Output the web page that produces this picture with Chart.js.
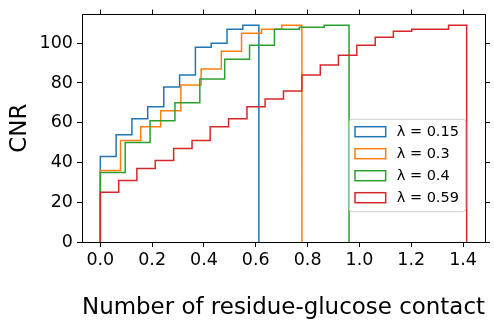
<!DOCTYPE html>
<html>
<head>
<meta charset="utf-8">
<script src="https://cdn.jsdelivr.net/npm/chart.js@4/dist/chart.umd.min.js"></script>
<style>
html,body{margin:0;padding:0;background:#fff;}
#wrap{width:494px;height:321px;}
</style>
</head>
<body>
<div id="wrap"><canvas id="c" width="494" height="321"></canvas></div>
<script>
// ---- data ----
const seriesLabels = ['λ = 0.15', 'λ = 0.3', 'λ = 0.4', 'λ = 0.59'];

const edges015 = [0, 0.061, 0.122, 0.183, 0.245, 0.306, 0.367, 0.428, 0.489, 0.550, 0.612];
const counts015 = [43, 54, 62, 68, 78, 84, 98, 100, 107, 109];

const edges03 = [0, 0.078, 0.156, 0.233, 0.311, 0.389, 0.467, 0.545, 0.622, 0.700, 0.778];
const counts03 = [36, 51, 58, 66, 79, 87, 96, 105, 107, 109];

const edges04 = [0, 0.096, 0.192, 0.288, 0.384, 0.480, 0.576, 0.672, 0.768, 0.864, 0.960];
const counts04 = [35, 50, 61, 70, 82, 92, 99, 107, 108, 109];

const edges059 = [0, 0.071, 0.141, 0.212, 0.283, 0.354, 0.424, 0.495, 0.566, 0.636, 0.707,
                  0.778, 0.849, 0.919, 0.990, 1.061, 1.131, 1.202, 1.273, 1.344, 1.414];
const counts059 = [25, 31, 37, 41, 47, 51, 58, 62, 68, 72, 76, 84, 89, 94, 99, 103, 106, 107, 107, 109];

const xTickValues = [0, 0.2, 0.4, 0.6, 0.8, 1.0, 1.2, 1.4];
const yTickValues = [0, 20, 40, 60, 80, 100];

const xAxisTitle = 'Number of residue-glucose contact';
const yAxisTitle = 'CNR';

// ---- build step outlines (matplotlib histtype="step") ----
function stepPoints(edges, counts) {
  const pts = [{x: edges[0], y: 0}];
  for (let i = 0; i < counts.length; i++) pts.push({x: edges[i + 1], y: counts[i]});
  const last = edges[edges.length - 1];
  pts.push({x: last, y: 0});
  return pts;
}

const colors = ['#1f77b4', '#ff7f0e', '#2ca02c', '#d62728'];
const allEdges = [edges015, edges03, edges04, edges059];
const allCounts = [counts015, counts03, counts04, counts059];

const datasets = seriesLabels.map((lab, i) => ({
  label: lab,
  data: stepPoints(allEdges[i], allCounts[i]),
  stepped: 'after',
  borderColor: colors[i],
  backgroundColor: colors[i],
  borderWidth: 1.5,
  pointRadius: 0,
  fill: false,
  tension: 0,
  order: 3 - i
}));

Chart.defaults.font.family = 'DejaVu Sans';
Chart.defaults.color = '#000';

const tickFont = {family: 'DejaVu Sans', size: 17.5};
const titleFont = {family: 'DejaVu Sans', size: 23};
const xTitleFont = {family: 'DejaVu Sans', size: 23.3};

const xMin = -0.0707, xMax = 1.4847;
const yMin = 0, yMax = 114.45;

const legendPlugin = {
  id: 'mplLegend',
  afterDatasetsDraw(chart) {
    const ctx = chart.ctx;
    const ca = chart.chartArea;
    const bx = ca.right - 135.7, by = ca.bottom - 122.7, bw = 116.4, bh = 92.4;
    ctx.save();
    const r = 3;
    ctx.beginPath();
    ctx.moveTo(bx + r, by);
    ctx.lineTo(bx + bw - r, by);
    ctx.quadraticCurveTo(bx + bw, by, bx + bw, by + r);
    ctx.lineTo(bx + bw, by + bh - r);
    ctx.quadraticCurveTo(bx + bw, by + bh, bx + bw - r, by + bh);
    ctx.lineTo(bx + r, by + bh);
    ctx.quadraticCurveTo(bx, by + bh, bx, by + bh - r);
    ctx.lineTo(bx, by + r);
    ctx.quadraticCurveTo(bx, by, bx + r, by);
    ctx.closePath();
    ctx.fillStyle = 'rgba(255,255,255,0.8)';
    ctx.fill();
    ctx.strokeStyle = '#cccccc';
    ctx.lineWidth = 1;
    ctx.stroke();
    ctx.font = '14.5px "DejaVu Sans"';
    ctx.textBaseline = 'middle';
    ctx.textAlign = 'left';
    chart.data.datasets.forEach((ds, i) => {
      const cy = by + 12.4 + i * 22;
      ctx.fillStyle = '#ffffff';
      ctx.fillRect(bx + 5.7, cy - 5, 30.7, 10);
      ctx.strokeStyle = ds.borderColor;
      ctx.lineWidth = 1.5;
      ctx.strokeRect(bx + 5.7, cy - 5, 30.7, 10);
      ctx.fillStyle = '#000';
      ctx.fillText(ds.label, bx + 47.4, cy + 0.5);
    });
    ctx.restore();
  }
};

new Chart(document.getElementById('c'), {
  type: 'line',
  data: {datasets},
  options: {
    responsive: false,
    animation: false,
    events: [],
    layout: {padding: 0},
    plugins: {legend: {display: false}, tooltip: {enabled: false}},
    scales: {
      x: {
        type: 'linear', position: 'bottom', min: xMin, max: xMax,
        afterBuildTicks: s => { s.ticks = xTickValues.map(v => ({value: v})); },
        afterFit: s => { s.height = 79; },
        ticks: {callback: v => Number(v).toFixed(1), font: tickFont, color: '#000', padding: 2.5, maxRotation: 0, autoSkip: false},
        grid: {drawOnChartArea: false, drawTicks: true, tickLength: 5, color: '#000', lineWidth: 1},
        border: {display: true, color: '#000', width: 1},
        title: {display: true, text: xAxisTitle, font: xTitleFont, color: '#000', padding: {top: 0, bottom: -1}}
      },
      x2: {
        type: 'linear', position: 'top', min: xMin, max: xMax,
        afterBuildTicks: s => { s.ticks = xTickValues.map(v => ({value: v})); },
        afterFit: s => { s.height = 14; },
        ticks: {display: false},
        grid: {drawOnChartArea: false, drawTicks: true, tickLength: 5, color: '#000', lineWidth: 1},
        border: {display: true, color: '#000', width: 1}
      },
      y: {
        type: 'linear', position: 'left', min: yMin, max: yMax,
        afterBuildTicks: s => { s.ticks = yTickValues.map(v => ({value: v})); },
        afterFit: s => { s.width = 82; },
        ticks: {callback: v => String(v), font: tickFont, color: '#000', padding: 4},
        grid: {drawOnChartArea: false, drawTicks: true, tickLength: 5, color: '#000', lineWidth: 1},
        border: {display: true, color: '#000', width: 1},
        title: {display: true, text: yAxisTitle, font: titleFont, color: '#000', padding: {top: 6.6, bottom: 4}}
      },
      y2: {
        type: 'linear', position: 'right', min: yMin, max: yMax,
        afterBuildTicks: s => { s.ticks = yTickValues.map(v => ({value: v})); },
        afterFit: s => { s.width = 9; },
        ticks: {display: false},
        grid: {drawOnChartArea: false, drawTicks: true, tickLength: 5, color: '#000', lineWidth: 1},
        border: {display: true, color: '#000', width: 1}
      }
    }
  },
  plugins: [legendPlugin]
});
</script>
</body>
</html>
